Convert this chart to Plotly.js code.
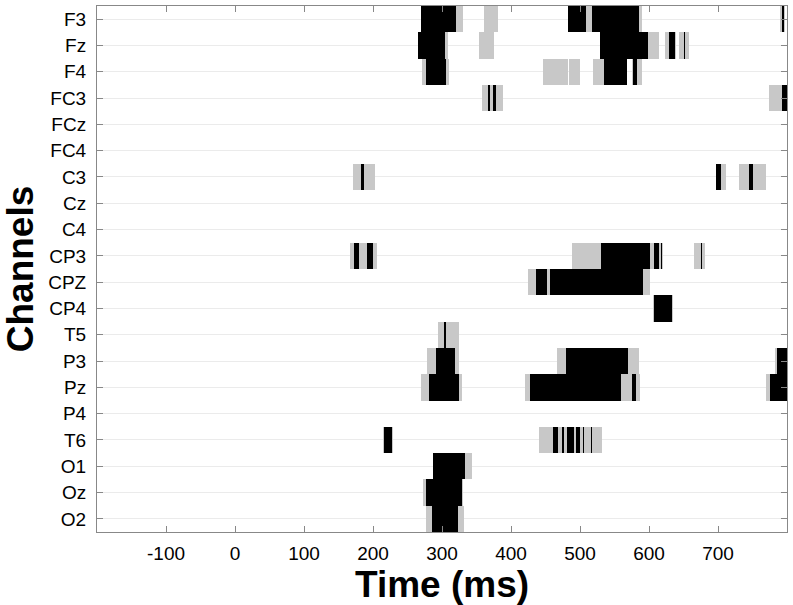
<!DOCTYPE html>
<html>
<head>
<meta charset="utf-8">
<script src="https://cdn.plot.ly/plotly-3.0.1.min.js"></script>
<style>
  html, body { margin: 0; padding: 0; background: #fff; }
  #plot { width: 793px; height: 605px; }
</style>
</head>
<body>
<div id="plot"></div>
<script>
// channel order, top to bottom
const channels = ["F3", "Fz", "F4", "FC3", "FCz", "FC4", "C3", "Cz", "C4", "CP3",
  "CPZ", "CP4", "T5", "P3", "Pz", "P4", "T6", "O1", "Oz", "O2"];

// weaker significance (gray), [start ms, end ms] per channel
const grayIntervals = [
  [[270, 330], [361, 381], [482, 590], [790, 797]],            // F3
  [[265, 308.5], [353, 375], [529, 615], [622.5, 639.5], [644, 658]], // Fz
  [[271, 309.5], [446.5, 483], [484.5, 500.5], [519.5, 568.5], [576, 590]], // F4
  [[357.5, 389], [774, 800]],                                   // FC3
  [],                                                           // FCz
  [],                                                           // FC4
  [[171, 203], [697, 711.5], [731, 769.5]],                     // C3
  [],                                                           // Cz
  [],                                                           // C4
  [[167, 206.5], [488, 621], [664.5, 681.5]],                   // CP3
  [[424, 602]],                                                 // CPZ
  [[606, 635]],                                                 // CP4
  [[293.5, 324]],                                               // T5
  [[278, 325], [466.5, 586], [783, 800]],                       // P3
  [[269.5, 329], [420.5, 587], [769, 800]],                     // Pz
  [],                                                           // P4
  [[215, 229], [440, 532.5]],                                   // T6
  [[287, 343.5]],                                               // O1
  [[272, 331]],                                                 // Oz
  [[276.5, 332.5]]                                              // O2
];

// strong significance (black)
const blackIntervals = [
  [[270, 321], [482, 508.5], [518, 586], [792.5, 795.5]],       // F3
  [[265, 304.5], [529, 599], [629, 637.5], [650, 651.5]],       // Fz
  [[276.5, 305.5], [534.5, 568.5], [577.5, 582]],               // F4
  [[366, 369], [374, 378.5], [792.5, 800]],                     // FC3
  [],                                                           // FCz
  [],                                                           // FC4
  [[182.5, 187], [697, 704], [744.5, 751]],                     // C3
  [],                                                           // Cz
  [],                                                           // C4
  [[172, 180], [191.5, 200.5], [531, 601.5], [607.5, 615], [617, 619], [675.5, 677.5]], // CP3
  [[436.5, 452], [457, 592]],                                   // CPZ
  [[607.5, 633.5]],                                             // CP4
  [[303, 305.5]],                                               // T5
  [[291.5, 319.5], [479.5, 569], [785.5, 800]],                 // P3
  [[281.5, 324], [428, 559.5], [575.5, 581.5], [776, 800]],     // Pz
  [],                                                           // P4
  [[216, 228], [460.5, 467.5], [473.5, 477], [481, 491.5], [493.5, 500.5], [505, 506.5], [516, 517.5]], // T6
  [[287, 333.5]],                                               // O1
  [[276.5, 329]],                                               // Oz
  [[286, 322.5]]                                                // O2
];

const xTicks = [-100, 0, 100, 200, 300, 400, 500, 600, 700];
const xTickText = ["-100", "0", "100", "200", "300", "400", "500", "600", "700"];

function barTrace(intervals, color, name) {
  const y = [], base = [], x = [];
  intervals.forEach((list, i) => {
    list.forEach(([s, e]) => {
      y.push(channels[i]);
      base.push(s);
      x.push(e - s);
    });
  });
  return {
    type: "bar",
    orientation: "h",
    y: y,
    x: x,
    base: base,
    width: 1,
    name: name,
    marker: { color: color, line: { width: 0 } },
    hoverinfo: "skip",
    showlegend: false
  };
}

const font = "Liberation Sans, Arial, sans-serif";

const traces = [
  barTrace(grayIntervals, "#c8c8c8", "p < 0.05"),
  barTrace(blackIntervals, "#000000", "p < 0.01")
];

const layout = {
  width: 793,
  height: 605,
  margin: { l: 97, r: 6, t: 6, b: 73 },
  paper_bgcolor: "#ffffff",
  plot_bgcolor: "#ffffff",
  barmode: "overlay",
  bargap: 0,
  showlegend: false,
  font: { family: font, color: "#000" },
  xaxis: {
    range: [-200, 800],
    tickvals: xTicks,
    ticktext: xTickText,
    ticks: "inside",
    ticklen: 6,
    tickcolor: "#888",
    showline: true,
    linecolor: "#888",
    linewidth: 1,
    mirror: "ticks",
    showgrid: false,
    zeroline: false,
    tickfont: { size: 19, family: font, color: "#000" },
    ticklabelstandoff: 4,
    title: { text: "<b>Time (ms)</b>", font: { size: 37, family: font, color: "#000" }, standoff: 0 }
  },
  yaxis: {
    type: "category",
    categoryorder: "array",
    categoryarray: channels,
    range: [channels.length - 0.5, -0.5],
    ticks: "inside",
    ticklen: 6,
    tickcolor: "#888",
    showline: true,
    linecolor: "#888",
    linewidth: 1,
    mirror: "ticks",
    showgrid: true,
    gridcolor: "#ebebeb",
    gridwidth: 1,
    zeroline: false,
    tickfont: { size: 19, family: font, color: "#000" },
    ticklabelstandoff: 6,
    title: { text: "<b>Channels</b>", font: { size: 37, family: font, color: "#000" }, standoff: 4 }
  }
};

Plotly.newPlot("plot", traces, layout, { displayModeBar: false, staticPlot: true });
</script>
</body>
</html>
